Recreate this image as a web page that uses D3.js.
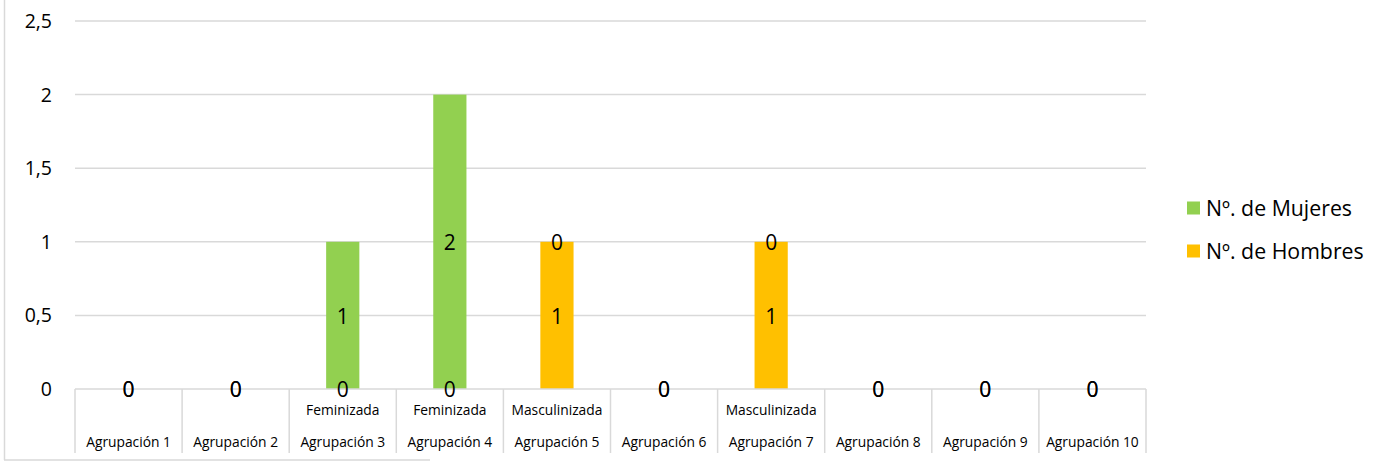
<!DOCTYPE html>
<html><head><meta charset="utf-8">
<script src="https://cdn.jsdelivr.net/npm/d3@7"></script>
<style>body{margin:0;background:#fff;} svg{display:block;font-family:"Open Sans",sans-serif;}</style>
</head><body><svg id="c" width="1380" height="465"></svg>
<script>
const categories = ["Agrupación 1","Agrupación 2","Agrupación 3","Agrupación 4","Agrupación 5","Agrupación 6","Agrupación 7","Agrupación 8","Agrupación 9","Agrupación 10"];
const subLabels = ["","","Feminizada","Feminizada","Masculinizada","","Masculinizada","","",""];
const hombres = [0,0,0,0,1,0,1,0,0,0];
const mujeres = [0,0,1,2,0,0,0,0,0,0];
const yTicks = [0,0.5,1,1.5,2,2.5];
const seriesNames = ["Nº. de Hombres","Nº. de Mujeres"];
const colors = {"Nº. de Hombres":"#FFC000","Nº. de Mujeres":"#92D050"};

const svg = d3.select("#c");
const L=75, R=1146, T=21, B=389;
const x = d3.scaleBand().domain(categories).range([L,R]).paddingInner(0).paddingOuter(0);
const y = d3.scaleLinear().domain([0,2.5]).range([B,T]);

// outer border
svg.append("line").attr("x1",4.5).attr("x2",4.5).attr("y1",0).attr("y2",460).attr("stroke","#d9d9d9").attr("stroke-width",1.5);
svg.append("line").attr("x1",4).attr("x2",430).attr("y1",460).attr("y2",460).attr("stroke","#d9d9d9").attr("stroke-width",1.5);

// gridlines
svg.append("g").selectAll("line").data(yTicks.filter(d=>d>0)).join("line")
  .attr("x1",L).attr("x2",R).attr("y1",d=>y(d)).attr("y2",d=>y(d))
  .attr("stroke","#d9d9d9").attr("stroke-width",1.5);

// y labels
const fmt = d => String(d).replace(".",",");
svg.append("g").selectAll("text").data(yTicks).join("text")
  .attr("x",52).attr("y",d=>y(d)).attr("dy","0.36em").attr("text-anchor","end")
  .attr("font-size",19.5).attr("fill","#000").text(fmt);

// bars (stacked)
const table = categories.map((c,i)=>({cat:c,"Nº. de Hombres":hombres[i],"Nº. de Mujeres":mujeres[i]}));
const stack = d3.stack().keys(seriesNames)(table);
const bw = x.bandwidth()*0.31;
const gBars = svg.append("g");
stack.forEach(s=>{
  gBars.selectAll(null).data(s).join("rect")
    .attr("x",d=>x(d.data.cat)+x.bandwidth()/2-bw/2)
    .attr("width",bw)
    .attr("y",d=>y(d[1]))
    .attr("height",d=>y(d[0])-y(d[1]))
    .attr("fill",colors[s.key]);
});

// category axis
svg.append("line").attr("x1",L).attr("x2",R).attr("y1",B).attr("y2",B).attr("stroke","#d9d9d9").attr("stroke-width",1.5);
const sepX = categories.map(c=>x(c)).concat([R]);
svg.append("g").selectAll("line").data(sepX).join("line")
  .attr("x1",d=>d).attr("x2",d=>d).attr("y1",B).attr("y2",453)
  .attr("stroke","#d9d9d9").attr("stroke-width",1.5);
svg.append("g").selectAll("text").data(categories).join("text")
  .attr("x",d=>x(d)+x.bandwidth()/2).attr("y",447).attr("text-anchor","middle")
  .attr("font-size",13.8).attr("fill","#000").text(d=>d);
svg.append("g").selectAll("text").data(subLabels).join("text")
  .attr("x",(d,i)=>x(categories[i])+x.bandwidth()/2).attr("y",415).attr("text-anchor","middle")
  .attr("font-size",13.8).attr("fill","#000").text(d=>d);

// value labels
const gLab = svg.append("g");
stack.forEach(s=>{
  gLab.selectAll(null).data(s).join("text")
    .attr("x",d=>x(d.data.cat)+x.bandwidth()/2)
    .attr("y",d=>y((d[0]+d[1])/2)).attr("dy","0.4em")
    .attr("text-anchor","middle").attr("font-size",21).attr("fill","#000")
    .text(d=>d[1]-d[0]);
});

// legend
const leg = [{n:"Nº. de Mujeres",y:208},{n:"Nº. de Hombres",y:251}];
const lg = svg.append("g");
lg.selectAll("rect").data(leg).join("rect")
  .attr("x",1187).attr("y",d=>d.y-6.5).attr("width",13).attr("height",13).attr("fill",d=>colors[d.n]);
lg.selectAll("text").data(leg).join("text")
  .attr("x",1206).attr("y",d=>d.y).attr("dy","0.36em").attr("font-size",21.3).attr("fill","#000").text(d=>d.n);
</script></body></html>
